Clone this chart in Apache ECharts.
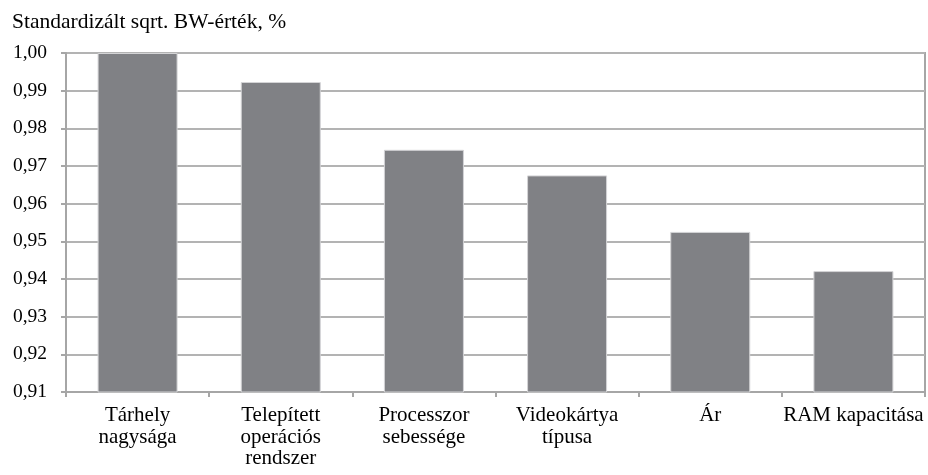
<!DOCTYPE html>
<html>
<head>
<meta charset="utf-8">
<script src="https://cdn.jsdelivr.net/npm/echarts@6/dist/echarts.min.js"></script>
<style>
  html, body { margin: 0; padding: 0; background: #fff; }
  #chart { width: 928px; height: 475px; }
</style>
</head>
<body>
<div id="chart"></div>
<script>
// Attribute labels along the x axis (line breaks kept as in the layout)
const categories = [
  'Tárhely\nnagysága',
  'Telepített\noperációs\nrendszer',
  'Processzor\nsebessége',
  'Videokártya\ntípusa',
  'Ár',
  'RAM kapacitása'
];

// Standardized sqrt. best-worst values per attribute
const values = [1.0, 0.9923, 0.9743, 0.9675, 0.9525, 0.9421];

// Value axis range and step
const yMin = 0.91;
const yMax = 1.00;
const yStep = 0.01;

const yTitle = 'Standardizált sqrt. BW-érték, %';

const chart = echarts.init(document.getElementById('chart'), null, { renderer: 'canvas' });

const axisGrey = '#a6a6a6';
const font = '"Liberation Serif", "Times New Roman", serif';

chart.setOption({
  animation: false,
  backgroundColor: '#ffffff',
  title: {
    text: yTitle,
    left: 7,
    top: 6,
    textStyle: { fontFamily: font, fontSize: 21.5, fontWeight: 'normal', color: '#000' }
  },
  grid: {
    left: 66, right: 3, top: 53, bottom: 83,
    show: true, borderColor: axisGrey, borderWidth: 2, backgroundColor: 'transparent'
  },
  xAxis: {
    type: 'category',
    data: categories,
    axisLine: { show: true, lineStyle: { color: axisGrey, width: 2 } },
    axisTick: { show: true, length: 5, alignWithLabel: false, lineStyle: { color: axisGrey, width: 2 } },
    axisLabel: {
      interval: 0, margin: 13,
      fontFamily: font, fontSize: 21, color: '#000', lineHeight: 21.5
    }
  },
  yAxis: {
    type: 'value',
    min: yMin, max: yMax, interval: yStep,
    axisLine: { show: true, lineStyle: { color: axisGrey, width: 2 } },
    axisTick: { show: true, length: 5, lineStyle: { color: axisGrey, width: 2 } },
    splitLine: { show: true, lineStyle: { color: '#b3b3b3', width: 2 } },
    axisLabel: {
      margin: 19,
      fontFamily: font, fontSize: 19.5, color: '#000',
      formatter: v => v.toFixed(2).replace('.', ',')
    }
  },
  series: [{
    type: 'bar',
    data: values,
    barWidth: 80,
    itemStyle: { color: '#808185', borderColor: '#d4d4d6', borderWidth: 1 }
  }]
});
</script>
</body>
</html>
